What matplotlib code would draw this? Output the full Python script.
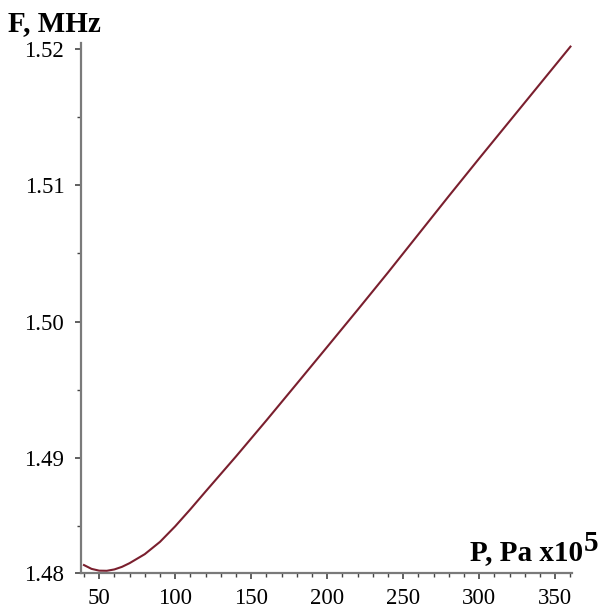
import numpy as np
import matplotlib
matplotlib.use('Agg')
from matplotlib import pyplot as plt
from matplotlib.ticker import MultipleLocator, FixedLocator

# Pressure (x10^5 Pa) and frequency (MHz)
pressure = [40, 45, 50, 55, 60, 65, 70, 80, 90, 100, 110, 120, 140, 160,
            180, 200, 220, 240, 260, 280, 300, 320, 340, 360]
freq = [1.48216, 1.48188, 1.48175, 1.48174, 1.48184, 1.48203, 1.48230,
        1.48296, 1.48386, 1.48500, 1.48625, 1.48755, 1.49012, 1.49276,
        1.49545, 1.49815, 1.50086, 1.50360, 1.50640, 1.50920, 1.51196,
        1.51469, 1.51742, 1.52015]

x_ticks = [50, 100, 150, 200, 250, 300, 350]
y_ticks = [1.48158, 1.49, 1.50, 1.51, 1.52]
y_tick_labels = ['1.48', '1.49', '1.50', '1.51', '1.52']

plt.rcParams['font.family'] = ['Liberation Serif', 'DejaVu Serif']

fig = plt.figure(figsize=(6.04, 6.08), dpi=100)
ax = fig.add_axes([0.134, 0.0576, 0.813, 0.8714])

ax.plot(pressure, freq, color='#7a1f2e', lw=1.5)

ax.set_xlim(38, 361)
ax.set_ylim(1.48158, 1.5204)

for s in ['top', 'right']:
    ax.spines[s].set_visible(False)
for s in ['left', 'bottom']:
    ax.spines[s].set_color('#7a7a7a')
    ax.spines[s].set_linewidth(1.6)

ax.xaxis.set_major_locator(FixedLocator(x_ticks))
ax.xaxis.set_minor_locator(MultipleLocator(10))
ax.yaxis.set_major_locator(FixedLocator(y_ticks))
ax.set_yticklabels(y_tick_labels)
ax.yaxis.set_minor_locator(FixedLocator([1.485, 1.495, 1.505, 1.515]))

ax.tick_params(axis='x', which='major', direction='out', length=4.5, width=1.2,
               color='#444444', labelsize=16.5, pad=6)
ax.tick_params(axis='x', which='minor', direction='out', length=3, width=1.0,
               color='#444444')
ax.tick_params(axis='y', which='major', direction='out', length=4, width=1.2,
               color='#444444', labelsize=16.5, pad=8)
ax.tick_params(axis='y', which='minor', direction='out', length=3, width=1.0,
               color='#444444')

fig.text(0.013, 0.949, 'F, MHz', fontsize=21, fontweight='bold', ha='left', va='baseline')
fig.text(0.965, 0.079, 'P, Pa x10', fontsize=21, fontweight='bold', ha='right', va='baseline')
fig.text(0.966, 0.094, '5', fontsize=21, fontweight='bold', ha='left', va='baseline')

fig.savefig('out.png', dpi=100, facecolor='white')
